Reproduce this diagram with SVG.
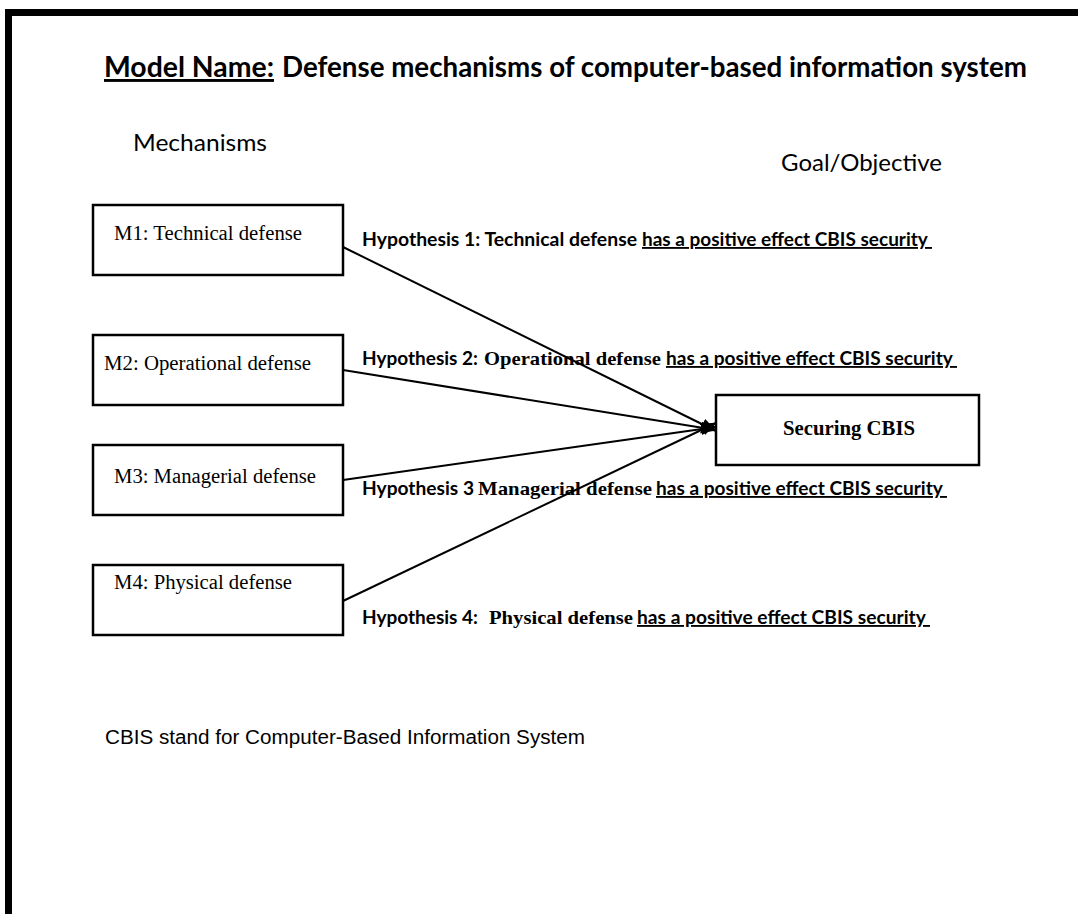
<svg xmlns="http://www.w3.org/2000/svg" width="1078" height="914" viewBox="0 0 1078 914">
<style>
.bg{fill:#fff}
.frame{fill:#000}
.box{fill:#fff;stroke:#000;stroke-width:2.5}
.conn{stroke:#000;stroke-width:2;fill:none}
.cal{font-family:Lato,"Open Sans","Liberation Sans",sans-serif;fill:#000}
.calb{font-family:Lato,"Open Sans","Liberation Sans",sans-serif;font-weight:bold;fill:#000}
.tim{font-family:"Liberation Serif","Times New Roman",serif;fill:#000}
.timb{font-family:"Liberation Serif","Times New Roman",serif;font-weight:bold;fill:#000}
.ari{font-family:"Liberation Sans",Arial,sans-serif;fill:#000}
.u{text-decoration:underline}
</style>
<defs>
<marker id="arr" markerUnits="userSpaceOnUse" markerWidth="16" markerHeight="12" refX="15" refY="6" orient="auto">
<path d="M0,0 L16,6 L0,12 Z" fill="#000"/>
</marker>
</defs>
<rect class="bg" x="0" y="0" width="1078" height="914"/>
<rect class="frame" x="5" y="9" width="1073" height="7"/>
<rect class="frame" x="5" y="9" width="7" height="905"/>

<g id="title">
<text class="calb u" x="104" y="77" font-size="29" textLength="170" lengthAdjust="spacingAndGlyphs">Model Name:</text>
<text class="calb" x="282" y="77" font-size="29" textLength="745" lengthAdjust="spacingAndGlyphs">Defense mechanisms of computer-based information system</text>
</g>
<g id="header-mechanisms">
<text class="cal" x="133" y="151" font-size="23" textLength="134" lengthAdjust="spacingAndGlyphs">Mechanisms</text>
</g>
<g id="header-goal">
<text class="cal" x="781" y="171" font-size="23" textLength="161" lengthAdjust="spacingAndGlyphs">Goal/Objective</text>
</g>

<g id="connectors">
<line class="conn" x1="343" y1="247" x2="716" y2="431" marker-end="url(#arr)"/>
<line class="conn" x1="343" y1="370" x2="716" y2="430" marker-end="url(#arr)"/>
<line class="conn" x1="343" y1="480" x2="716" y2="427" marker-end="url(#arr)"/>
<line class="conn" x1="343" y1="601" x2="716" y2="423" marker-end="url(#arr)"/>
</g>

<g id="m1">
<rect class="box" x="93" y="205" width="250" height="70"/>
<text class="tim" x="114" y="240" font-size="20" textLength="188" lengthAdjust="spacingAndGlyphs">M1: Technical defense</text>
</g>
<g id="m2">
<rect class="box" x="93" y="335" width="250" height="70"/>
<text class="tim" x="104" y="370" font-size="20" textLength="207" lengthAdjust="spacingAndGlyphs">M2: Operational defense</text>
</g>
<g id="m3">
<rect class="box" x="93" y="445" width="250" height="70"/>
<text class="tim" x="114" y="483" font-size="20" textLength="202" lengthAdjust="spacingAndGlyphs">M3: Managerial defense</text>
</g>
<g id="m4">
<rect class="box" x="93" y="565" width="250" height="70"/>
<text class="tim" x="114" y="589" font-size="20" textLength="178" lengthAdjust="spacingAndGlyphs">M4: Physical defense</text>
</g>
<g id="goal">
<rect class="box" x="716" y="395" width="263" height="70"/>
<text class="timb" x="783" y="435" font-size="20" textLength="132" lengthAdjust="spacingAndGlyphs">Securing CBIS</text>
</g>

<g id="h1">
<text class="calb" x="362" y="246" font-size="18.5" textLength="275" lengthAdjust="spacingAndGlyphs">Hypothesis 1: Technical defense</text>
<text class="calb u" x="642" y="246" font-size="18.5" textLength="290" lengthAdjust="spacingAndGlyphs">has a positive effect CBIS security&#160;</text>
</g>
<g id="h2">
<text class="calb" x="362" y="365" font-size="18.5" textLength="116" lengthAdjust="spacingAndGlyphs">Hypothesis 2:</text>
<text class="timb" x="484" y="365" font-size="19" textLength="177" lengthAdjust="spacingAndGlyphs">Operational defense</text>
<text class="calb u" x="666" y="365" font-size="18.5" textLength="291" lengthAdjust="spacingAndGlyphs">has a positive effect CBIS security&#160;</text>
</g>
<g id="h3">
<text class="calb" x="362" y="495" font-size="18.5" textLength="112" lengthAdjust="spacingAndGlyphs">Hypothesis 3</text>
<text class="timb" x="478" y="495" font-size="19" textLength="174" lengthAdjust="spacingAndGlyphs">Managerial defense</text>
<text class="calb u" x="656" y="495" font-size="18.5" textLength="291" lengthAdjust="spacingAndGlyphs">has a positive effect CBIS security&#160;</text>
</g>
<g id="h4">
<text class="calb" x="362" y="624" font-size="18.5" textLength="116" lengthAdjust="spacingAndGlyphs">Hypothesis 4:</text>
<text class="timb" x="489" y="624" font-size="19" textLength="144" lengthAdjust="spacingAndGlyphs">Physical defense</text>
<text class="calb u" x="637" y="624" font-size="18.5" textLength="293" lengthAdjust="spacingAndGlyphs">has a positive effect CBIS security&#160;</text>
</g>

<g id="note">
<text class="ari" x="105" y="744" font-size="20" textLength="480" lengthAdjust="spacingAndGlyphs">CBIS stand for Computer-Based Information System</text>
</g>
</svg>
